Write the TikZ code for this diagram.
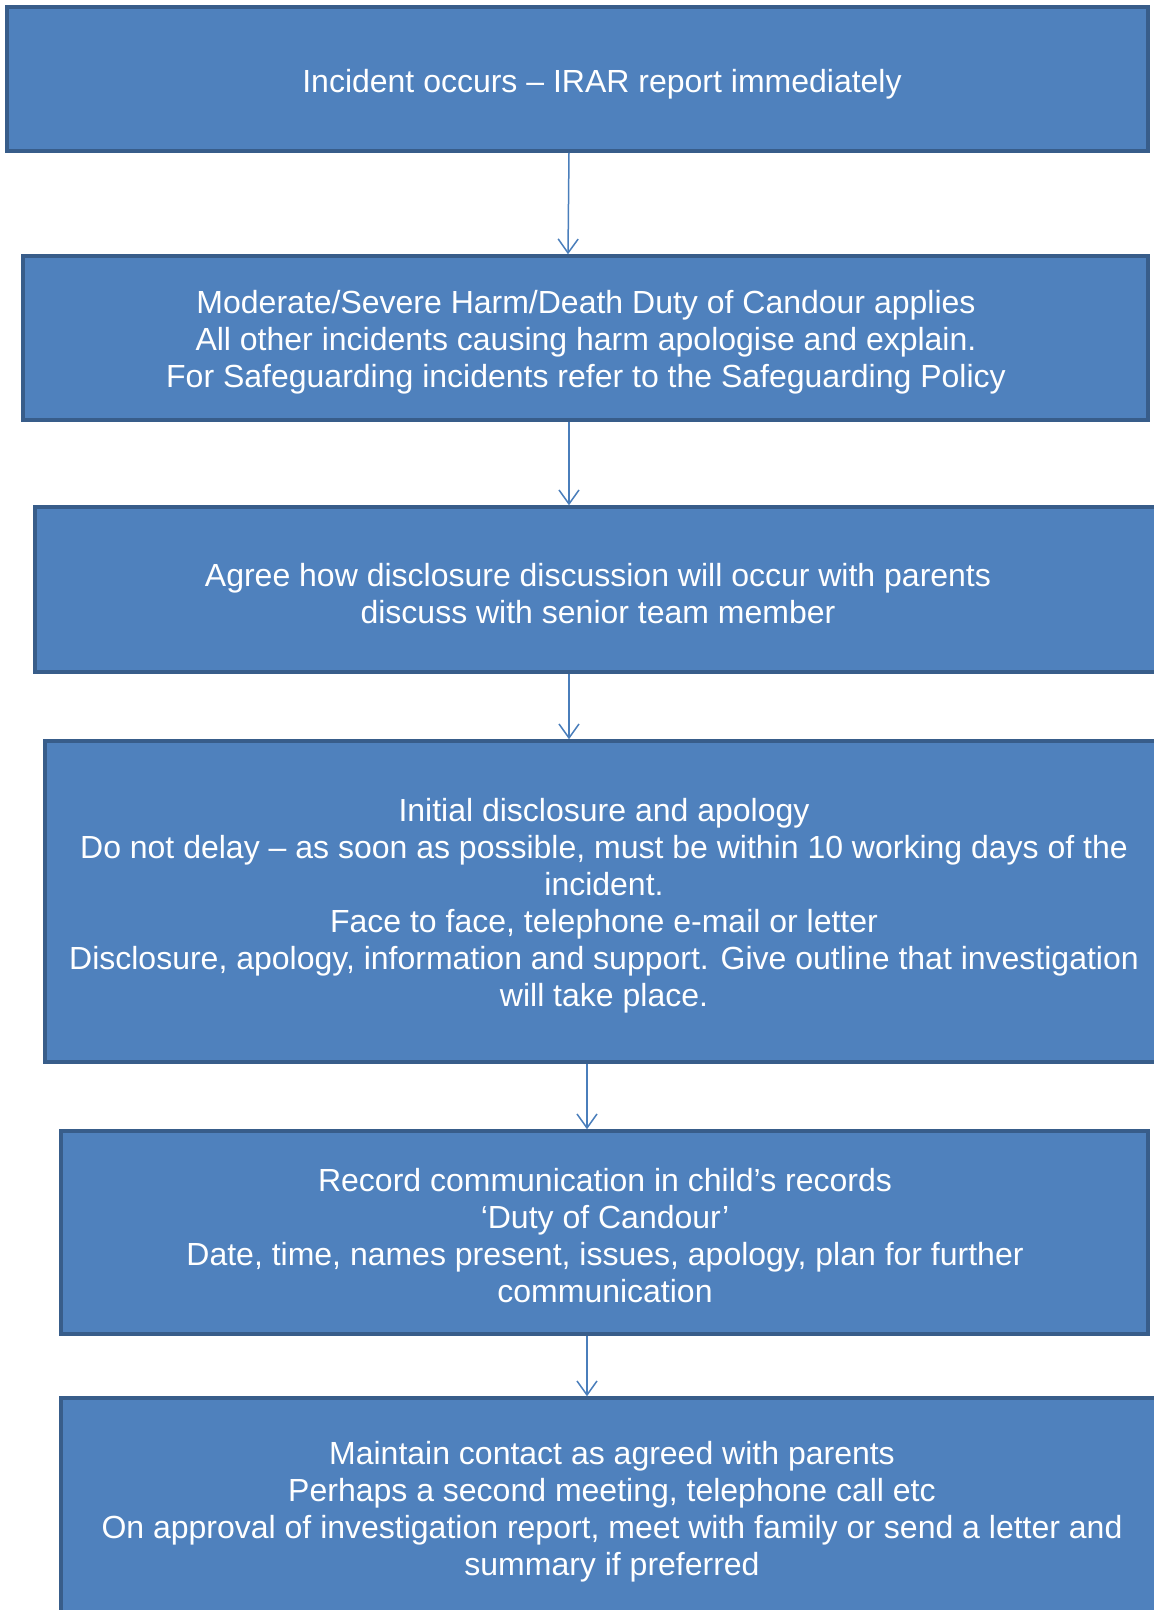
\documentclass[tikz,border=0pt]{standalone}
\usepackage{fontspec}
\setmainfont{Liberation Sans}
\usetikzlibrary{arrows.meta}
\definecolor{boxfill}{HTML}{4F81BD}
\definecolor{boxline}{HTML}{385D8A}
\definecolor{arrowblue}{HTML}{4A7EBB}
\tikzset{
  stepbox/.style={draw=boxline, fill=boxfill, line width=3.5pt, inner sep=0pt},
  steptext/.style={text=white, align=center, font=\fontsize{32}{37}\selectfont, inner sep=0pt},
  flow/.style={draw=arrowblue, line width=1.5pt, -{Straight Barb[length=14pt,width=20pt]}}
}

\begin{document}
\begin{tikzpicture}[x=1pt,y=-1pt]
  \useasboundingbox (0,0) rectangle (1154,1610);
  \clip (0,0) rectangle (1154,1610);
  % boxes
  \node[stepbox, minimum width=1141pt, minimum height=144pt] (b1) at (577.5,79) {};
  \node[stepbox, minimum width=1125pt, minimum height=164pt] (b2) at (585.5,338) {};
  \node[stepbox, minimum width=1126pt, minimum height=165pt] (b3) at (598,589.5) {};
  \node[stepbox, minimum width=1118pt, minimum height=321pt] (b4) at (604,901.5) {};
  \node[stepbox, minimum width=1087pt, minimum height=203pt] (b5) at (604.5,1232.5) {};
  \node[stepbox, minimum width=1102pt, minimum height=220pt] (b6) at (612,1508) {};
  % texts
  \node[steptext] (t1) at (602,84) {Incident occurs – IRAR report immediately};
  \node[steptext] (t2) at (586,342) {Moderate/Severe Harm/Death Duty of Candour applies\\
    All other incidents causing harm apologise and explain.\\
    For Safeguarding incidents refer to the Safeguarding Policy};
  \node[steptext] (t3) at (598,594) {Agree how disclosure discussion will occur with parents\\
    discuss with senior team member};
  \node[steptext] (t4) at (604,906) {Initial disclosure and apology\\
    Do not delay – as soon as possible, must be within 10 working days of the\\
    incident.\\
    Face to face, telephone e-mail or letter\\
    Disclosure, apology, information and support. Give outline that investigation\\
    will take place.};
  \node[steptext] (t5) at (605,1236) {Record communication in child’s records\\
    ‘Duty of Candour’\\
    Date, time, names present, issues, apology, plan for further\\
    communication};
  \node[steptext] (t6) at (612,1512) {Maintain contact as agreed with parents\\
    Perhaps a second meeting, telephone call etc\\
    On approval of investigation report, meet with family or send a letter and\\
    summary if preferred};
  % arrows
  \draw[flow] ([xshift=-8.5pt]b1.south) -- ([xshift=-17.5pt]b2.north);
  \draw[flow] ([xshift=-16.5pt]b2.south) -- ([xshift=-29pt]b3.north);
  \draw[flow] ([xshift=-29pt]b3.south) -- ([xshift=-35pt]b4.north);
  \draw[flow] ([xshift=-17pt]b4.south) -- ([xshift=-17.5pt]b5.north);
  \draw[flow] ([xshift=-17.5pt]b5.south) -- ([xshift=-25pt]b6.north);
\end{tikzpicture}
\end{document}
